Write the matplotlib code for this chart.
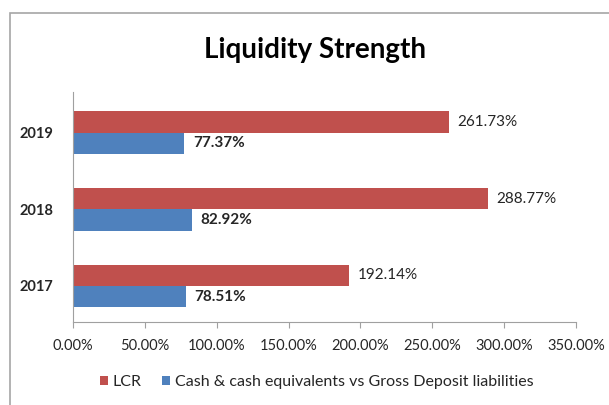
import numpy as np
import matplotlib.pyplot as plt
from matplotlib.patches import Rectangle

# data
years = ["2017", "2018", "2019"]
lcr = [192.14, 288.77, 261.73]
cash_ratio = [78.51, 82.92, 77.37]
xticks = [0, 50, 100, 150, 200, 250, 300, 350]

red = "#C0504D"
blue = "#4F81BD"
txt = "#262626"

plt.rcParams['font.family'] = ['Lato', 'DejaVu Sans']

fig = plt.figure(figsize=(6.09, 4.05), dpi=100)
ax = fig.add_axes([73 / 609, 1 - 322 / 405, 503 / 609, 230 / 405])

y = np.arange(len(years))
h = 0.28
ax.barh(y + h / 2, lcr, height=h, color=red, label="LCR")
ax.barh(y - h / 2, cash_ratio, height=h, color=blue,
        label="Cash & cash equivalents vs Gross Deposit liabilities")

for yi, v in zip(y, lcr):
    ax.text(v + 6, yi + h / 2, f"{v:.2f}%", va="center", ha="left",
            fontsize=11, color=txt)
for yi, v in zip(y, cash_ratio):
    ax.text(v + 6, yi - h / 2, f"{v:.2f}%", va="center", ha="left",
            fontsize=11, color=txt, fontweight="bold")

ax.set_xlim(0, 350)
ax.set_ylim(-0.47, 2.53)
ax.set_xticks(xticks)
ax.set_xticklabels([f"{t:.2f}%" for t in xticks], fontsize=10.5, color=txt)
ax.set_yticks(y)
ax.set_yticklabels(years, fontsize=10.5, fontweight="bold", color=txt)
ax.tick_params(axis="y", length=0, pad=14)
ax.tick_params(axis="x", length=4, color="#A0A0A0", pad=8, direction="out")

for s in ["top", "right"]:
    ax.spines[s].set_visible(False)
for s in ["left", "bottom"]:
    ax.spines[s].set_color("#A0A0A0")

fig.text(0.517, 1 - 50 / 405, "Liquidity Strength", ha="center", va="center",
         fontsize=20, fontweight="bold", color="black")

fig.legend(loc="center", bbox_to_anchor=(0.52, 1 - 382 / 405), ncol=2,
           frameon=False, fontsize=11.5, handlelength=0.5, handleheight=0.5,
           handletextpad=0.3, columnspacing=1.3, labelcolor=txt)

fig.patches.append(Rectangle((10 / 609, -0.1), 1.2, 1 - 13 / 405 + 0.1,
                             transform=fig.transFigure, fill=False,
                             edgecolor="#A6A6A6", linewidth=1.2))

fig.savefig("out.png", dpi=100)
